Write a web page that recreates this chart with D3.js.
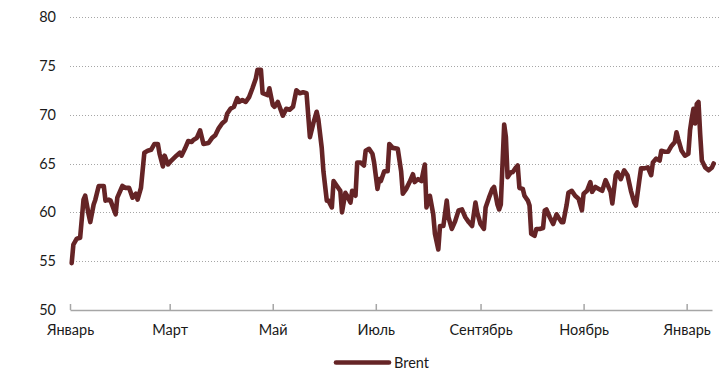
<!DOCTYPE html>
<html>
<head>
<meta charset="utf-8">
<script src="https://cdn.jsdelivr.net/npm/d3@7"></script>
<style>
  html, body { margin: 0; padding: 0; background: #fff; }
  svg { display: block; font-family: Lato, "Open Sans", sans-serif; }
</style>
</head>
<body>
<svg id="chart" width="720" height="369"></svg>
<script>
// Brent crude, USD per barrel
const dates = [
  "2019-01-02","2019-01-03","2019-01-05","2019-01-07","2019-01-09","2019-01-10","2019-01-12","2019-01-13",
  "2019-01-15","2019-01-16","2019-01-18","2019-01-21","2019-01-22","2019-01-24","2019-01-25","2019-01-28",
  "2019-01-29","2019-02-01","2019-02-03","2019-02-05","2019-02-06","2019-02-07","2019-02-09","2019-02-10",
  "2019-02-12","2019-02-14","2019-02-16","2019-02-18","2019-02-20","2019-02-22","2019-02-23","2019-02-25",
  "2019-02-26","2019-02-28","2019-03-02","2019-03-05","2019-03-07","2019-03-08","2019-03-10","2019-03-12",
  "2019-03-14","2019-03-15","2019-03-17","2019-03-19","2019-03-21","2019-03-24","2019-03-26","2019-03-28",
  "2019-03-30","2019-04-01","2019-04-03","2019-04-04","2019-04-06","2019-04-08","2019-04-10","2019-04-11",
  "2019-04-13","2019-04-15","2019-04-17","2019-04-19","2019-04-21","2019-04-22","2019-04-24","2019-04-25",
  "2019-04-28","2019-04-29","2019-05-01","2019-05-02","2019-05-04","2019-05-07","2019-05-09","2019-05-11",
  "2019-05-13","2019-05-15","2019-05-17","2019-05-19","2019-05-21","2019-05-23","2019-05-25","2019-05-27",
  "2019-05-28","2019-05-30","2019-05-31","2019-06-02","2019-06-03","2019-06-05","2019-06-06","2019-06-08",
  "2019-06-10","2019-06-11","2019-06-13","2019-06-14","2019-06-16","2019-06-17","2019-06-19","2019-06-20",
  "2019-06-22","2019-06-24","2019-06-25","2019-06-27","2019-06-29","2019-06-30","2019-07-02","2019-07-03",
  "2019-07-04","2019-07-06","2019-07-08","2019-07-09","2019-07-11","2019-07-14","2019-07-16","2019-07-17",
  "2019-07-19","2019-07-21","2019-07-23","2019-07-24","2019-07-26","2019-07-28","2019-07-30","2019-07-31",
  "2019-08-02","2019-08-04","2019-08-05","2019-08-07","2019-08-08","2019-08-10","2019-08-12","2019-08-13",
  "2019-08-15","2019-08-17","2019-08-19","2019-08-21","2019-08-23","2019-08-25","2019-08-27","2019-08-29",
  "2019-08-30","2019-09-01","2019-09-03","2019-09-04","2019-09-06","2019-09-08","2019-09-09","2019-09-11",
  "2019-09-12","2019-09-13","2019-09-15","2019-09-16","2019-09-17","2019-09-19","2019-09-20","2019-09-22",
  "2019-09-23","2019-09-24","2019-09-26","2019-09-27","2019-09-29","2019-09-30","2019-10-01","2019-10-03",
  "2019-10-04","2019-10-06","2019-10-08","2019-10-09","2019-10-10","2019-10-12","2019-10-14","2019-10-16",
  "2019-10-17","2019-10-19","2019-10-20","2019-10-22","2019-10-23","2019-10-25","2019-10-27","2019-10-29",
  "2019-10-31","2019-11-01","2019-11-03","2019-11-05","2019-11-06","2019-11-08","2019-11-10","2019-11-12",
  "2019-11-14","2019-11-15","2019-11-17","2019-11-18","2019-11-20","2019-11-21","2019-11-23","2019-11-25",
  "2019-11-27","2019-11-29","2019-12-01","2019-12-02","2019-12-04","2019-12-05","2019-12-07","2019-12-09",
  "2019-12-11","2019-12-12","2019-12-14","2019-12-16","2019-12-17","2019-12-19","2019-12-21","2019-12-23",
  "2019-12-25","2019-12-26","2019-12-27","2019-12-29","2019-12-31","2020-01-02","2020-01-03","2020-01-04",
  "2020-01-05","2020-01-06","2020-01-07","2020-01-08","2020-01-09","2020-01-10","2020-01-12","2020-01-14",
  "2020-01-16","2020-01-17"
];
const brent = [
  54.8,56.7,57.3,57.4,61.3,61.7,59.8,59.0,
  60.8,61.3,62.7,62.7,61.2,61.3,61.2,59.8,
  61.5,62.7,62.5,62.5,62.0,61.5,61.9,61.3,
  62.5,66.1,66.3,66.4,67.0,67.0,66.0,64.7,
  65.8,64.9,65.3,65.8,66.1,65.8,66.5,67.3,
  67.2,67.4,67.6,68.4,67.0,67.1,67.6,67.9,
  68.6,69.1,69.4,70.1,70.6,70.8,71.7,71.3,
  71.5,71.3,71.8,72.7,73.7,74.6,74.6,72.2,
  72.0,72.7,71.0,70.8,71.3,69.9,70.6,70.5,
  70.8,72.5,72.2,72.3,72.2,67.7,69.1,70.3,
  69.5,66.6,64.2,61.2,61.2,60.5,63.2,62.7,
  62.2,60.0,62.0,61.7,61.0,62.2,61.7,65.1,
  65.1,64.8,66.3,66.5,66.0,65.1,62.4,63.4,
  63.2,64.2,64.2,67.0,66.6,66.5,64.2,61.9,
  62.4,63.1,63.9,63.1,63.4,63.2,64.9,60.5,
  61.7,59.8,57.8,56.2,58.6,58.6,61.2,59.5,
  58.3,59.1,60.2,60.3,59.5,59.0,58.6,61.0,
  60.0,58.8,58.3,60.5,61.5,62.4,62.6,60.8,
  60.3,60.8,69.0,67.7,63.6,64.1,64.1,64.6,
  64.8,62.5,62.4,61.7,61.2,60.7,57.8,57.6,
  58.3,58.3,58.4,60.2,60.3,59.5,58.8,59.8,
  59.5,59.0,59.0,60.8,62.0,62.2,61.7,61.4,
  60.2,61.9,62.2,63.1,62.1,62.6,62.4,62.2,
  63.3,62.9,62.1,60.9,63.8,64.1,63.4,64.3,
  63.8,62.2,61.0,60.7,63.3,64.5,64.5,64.6,
  63.8,65.1,65.5,65.3,66.3,66.2,66.2,66.8,
  67.2,68.2,67.5,66.3,65.8,66.0,68.4,69.6,
  70.6,69.1,71.1,71.3,68.0,65.3,64.6,64.3,
  64.6,65.0
];
const yTicks = [50, 55, 60, 65, 70, 75, 80];
const xTickDates = ["2019-01-01","2019-03-01","2019-05-01","2019-07-01","2019-09-01","2019-11-01","2020-01-01"];
const xTickLabels = ["Январь","Март","Май","Июль","Сентябрь","Ноябрь","Январь"];
const seriesName = "Brent";

const parse = d3.timeParse("%Y-%m-%d");
const data = dates.map((d, i) => ({ date: parse(d), value: brent[i] }));

const svg = d3.select("#chart");
const lineColor = "#652426";
const textColor = "#1a1a1a";
const fontSize = "14.5px";

const x = d3.scaleTime()
  .domain([parse("2019-01-01"), parse("2020-01-16")])
  .range([70, 712]);
const y = d3.scaleLinear().domain([50, 80]).range([310, 17]);

// horizontal dotted gridlines
svg.append("g")
  .selectAll("line")
  .data(yTicks.filter(t => t > 50))
  .join("line")
  .attr("x1", 70).attr("x2", 720)
  .attr("y1", d => Math.round(y(d)) + 0.5)
  .attr("y2", d => Math.round(y(d)) + 0.5)
  .attr("stroke", "#a6a6a6")
  .attr("stroke-width", 1)
  .attr("stroke-dasharray", "1,2");

// y axis labels
const yAxis = d3.axisLeft(y).tickValues(yTicks).tickSize(0).tickPadding(0);
svg.append("g")
  .attr("transform", "translate(56,0)")
  .call(yAxis)
  .call(g => g.select(".domain").remove())
  .call(g => g.selectAll("text")
    .attr("fill", textColor)
    .style("font-size", fontSize)
    .style("font-family", "Lato, 'Open Sans', sans-serif"));

// x axis with inward ticks
const xAxis = d3.axisBottom(x)
  .tickValues(xTickDates.map(parse))
  .tickFormat((d, i) => xTickLabels[i])
  .tickSizeInner(-6)
  .tickSizeOuter(0)
  .tickPadding(15);
svg.append("g")
  .attr("transform", "translate(0,310)")
  .call(xAxis)
  .call(g => g.select(".domain").attr("stroke", "#a6a6a6").attr("stroke-width", 1.5))
  .call(g => g.selectAll(".tick line").attr("stroke", "#a6a6a6").attr("stroke-width", 1.5))
  .call(g => g.selectAll("text")
    .attr("fill", textColor)
    .style("font-size", fontSize)
    .style("font-family", "Lato, 'Open Sans', sans-serif"));

// price line
const line = d3.line()
  .x(d => x(d.date))
  .y(d => y(d.value));
svg.append("path")
  .datum(data)
  .attr("fill", "none")
  .attr("stroke", lineColor)
  .attr("stroke-width", 4.6)
  .attr("stroke-linejoin", "round")
  .attr("stroke-linecap", "round")
  .attr("d", line);

// legend
const legend = svg.append("g").attr("transform", "translate(336,362.5)");
legend.append("line")
  .attr("x1", 0).attr("x2", 53)
  .attr("stroke", lineColor)
  .attr("stroke-width", 4.6)
  .attr("stroke-linecap", "round");
legend.append("text")
  .attr("x", 58).attr("y", 5)
  .attr("fill", textColor)
  .style("font-size", fontSize)
  .text(seriesName);
</script>
</body>
</html>
